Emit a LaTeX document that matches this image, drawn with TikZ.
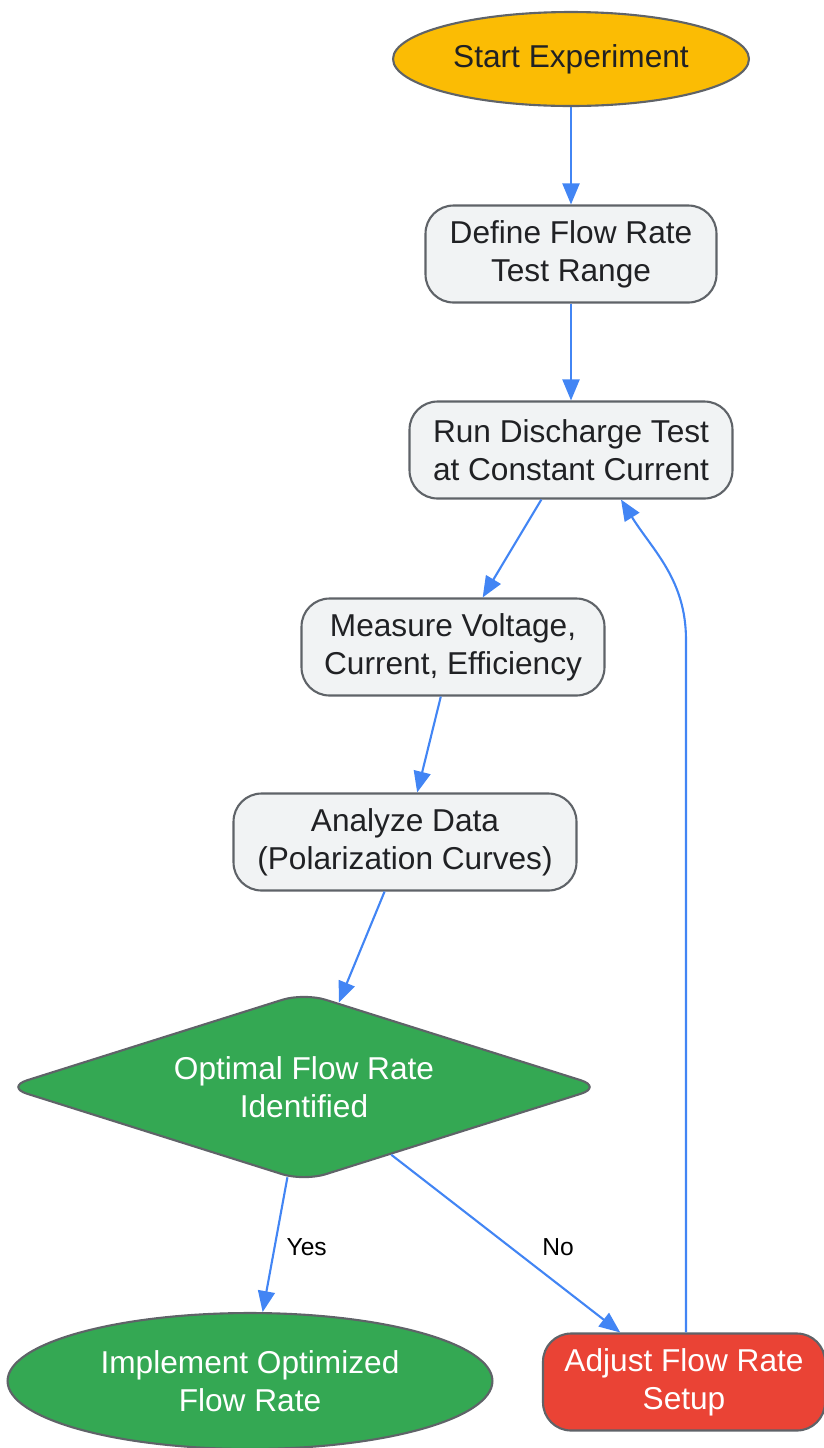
\documentclass[tikz,border=0pt]{standalone}
\usepackage{fontspec}
\setmainfont{Liberation Sans}
\usetikzlibrary{shapes.geometric,arrows.meta}
\definecolor{startyellow}{HTML}{FBBC04}
\definecolor{okgreen}{HTML}{34A853}
\definecolor{badred}{HTML}{EA4335}
\definecolor{stepgray}{HTML}{F1F3F4}
\definecolor{edgegray}{HTML}{5F6368}
\definecolor{flowblue}{HTML}{4285F4}
\definecolor{textdark}{HTML}{202124}
\begin{document}
\begin{tikzpicture}[x=0.02cm,y=-0.02cm,
    every node/.style={font=\fontsize{18}{21.6}\selectfont,align=center,inner sep=0pt},
    box/.style={draw=edgegray,line width=1.2pt,rounded corners=0.56cm},
    stepbox/.style={box,fill=stepgray,text=textdark,minimum height=1.94cm},
    oval/.style={ellipse,draw=edgegray,line width=1.2pt},
    check/.style={diamond,aspect=3.15,draw=edgegray,line width=1.2pt,rounded corners=0.45cm,fill=okgreen,text=white},
    flow/.style={draw=flowblue,line width=1.2pt,-{Triangle[length=0.42cm,width=0.34cm]}},
    lbl/.style={font=\fontsize{14}{16}\selectfont,text=black}]
    \useasboundingbox (0,0) rectangle (824,1448);
    % nodes
    \node[oval,fill=startyellow,text=textdark,minimum width=7.12cm,minimum height=1.88cm] (start) at (571,59) {Start Experiment};
    \node[stepbox,minimum width=5.82cm] (define) at (571,254) {Define Flow Rate\\Test Range};
    \node[stepbox,minimum width=6.46cm] (run) at (571,450) {Run Discharge Test\\at Constant Current};
    \node[stepbox,minimum width=6.06cm] (measure) at (453,647) {Measure Voltage,\\Current, Efficiency};
    \node[stepbox,minimum width=6.86cm] (analyze) at (405,842) {Analyze Data\\(Polarization Curves)};
    \node[check,minimum width=11.95cm,minimum height=3.78cm] (optimal) at (304,1087) {Optimal Flow Rate\\Identified};
    \node[oval,fill=okgreen,text=white,minimum width=9.7cm,minimum height=2.72cm] (implement) at (250,1381) {Implement Optimized\\Flow Rate};
    \node[box,fill=badred,text=white,minimum width=5.64cm,minimum height=1.94cm] (adjust) at (684,1382) {Adjust Flow Rate\\Setup};
    \coordinate (bend) at (686,640);
    % edges
    \draw[flow] (start) -- (define);
    \draw[flow] (define) -- (run);
    \draw[flow] (run) -- (measure);
    \draw[flow] (measure) -- (analyze);
    \draw[flow] (analyze) -- (optimal);
    \draw[flow] (optimal) -- node[lbl,right=0.22cm,pos=0.52] (yes) {Yes} (implement);
    \draw[flow] (optimal) -- node[lbl,right=0.62cm,pos=0.52] (no) {No} (adjust);
    \draw[flow] (adjust.north -| bend) -- (bend) to[out=90,in=-58] ([xshift=1cm]run.south);
\end{tikzpicture}
\end{document}
